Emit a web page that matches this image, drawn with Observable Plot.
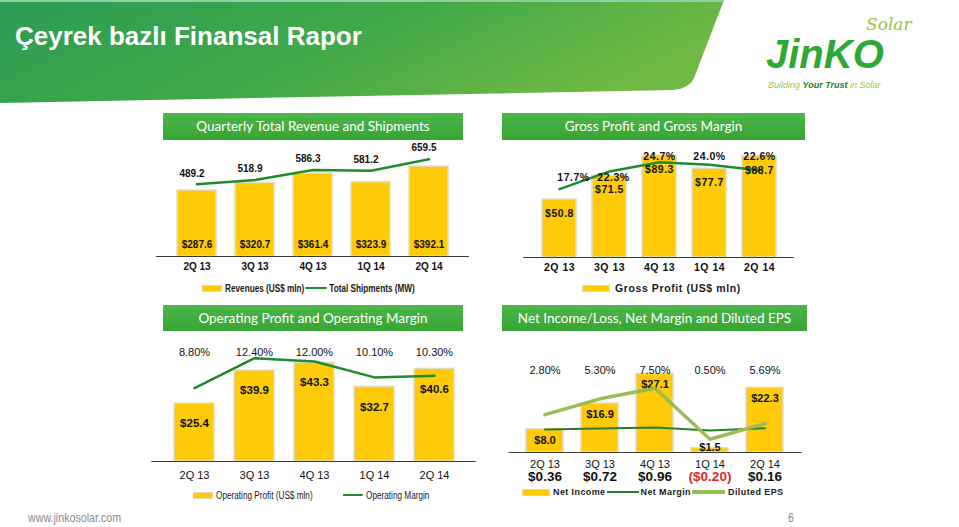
<!DOCTYPE html>
<html><head><meta charset="utf-8">
<script src="https://cdn.jsdelivr.net/npm/d3@7"></script>
<script src="https://cdn.jsdelivr.net/npm/@observablehq/plot@0.6"></script>
<style>
html,body{margin:0;padding:0;background:#fff;}
#page{position:relative;width:959px;height:527px;overflow:hidden;background:#fff;font-family:"Liberation Sans",Arial,sans-serif;}
.abs{position:absolute;}
.ph{position:absolute;height:27px;line-height:27px;color:#fff;text-align:center;font-family:Lato,"Open Sans",sans-serif;font-size:13.5px;background:linear-gradient(#4fb64a,#36a433);white-space:nowrap;}
.chart{position:absolute;}
.chart svg{position:absolute;left:0;top:0;}
.legend{position:absolute;display:flex;align-items:center;white-space:nowrap;color:#1a1a1a;height:14px;font-family:"Liberation Sans",Arial,sans-serif;}
.squeeze{transform:scaleX(0.82);transform-origin:0 50%;}
.sw{display:inline-block;background:#FFCA08;border:1px solid #e0d9bc;box-sizing:border-box;}
.ln{display:inline-block;}
#c2 text{letter-spacing:0.5px;}
.foot{position:absolute;color:#8a8a8a;font-size:13px;line-height:16px;font-family:"Liberation Sans",Arial,sans-serif;}
</style></head>
<body><div id="page">
<svg class="abs" style="left:0;top:0" width="959" height="110">
 <defs>
  <linearGradient id="hg" x1="0" x2="1" y1="0" y2="0.3">
   <stop offset="0" stop-color="#2c9c55"/><stop offset="0.55" stop-color="#41a948"/><stop offset="1" stop-color="#6fb944"/>
  </linearGradient>
  <linearGradient id="ul" x1="0" x2="1"><stop offset="0" stop-color="#3a9a3a"/><stop offset="1" stop-color="#cccccc" stop-opacity="0.3"/></linearGradient>
 </defs>
 <path d="M0,0 H724 L694,78 Q689,89 672,90 L0,103 Z" fill="url(#hg)"/>
 <rect x="0" y="0" width="724" height="2" fill="#8fd0a0"/>
 <text x="15" y="45" fill="#fff" font-family="Liberation Sans, Arial, sans-serif" font-weight="bold" font-size="26">Çeyrek bazlı Finansal Rapor</text>
 <text x="866" y="30" fill="#9cc43c" font-family="DejaVu Serif, serif" font-style="italic" font-size="17">Solar</text>
 <text x="766" y="68" fill="#2fa836" font-family="Liberation Sans, Arial, sans-serif" font-style="italic" font-weight="bold" font-size="40">JinKO</text>
 <line x1="768" x2="926" y1="73.5" y2="73.5" stroke="url(#ul)" stroke-width="1.5"/>
 <text x="768" y="88" font-family="Liberation Sans, Arial, sans-serif" font-size="9" font-style="italic" fill="#9cc54a">Building <tspan font-weight="bold" fill="#1f7d2c">Your Trust</tspan> in Solar</text>
</svg>

<div class="ph" style="left:163px;top:113px;width:300px">Quarterly Total Revenue and Shipments</div>
<div class="ph" style="left:502px;top:113px;width:303px">Gross Profit and Gross Margin</div>
<div class="ph" style="left:163px;top:305px;width:300px;height:26px;line-height:26px">Operating Profit and Operating Margin</div>
<div class="ph" style="left:502px;top:305px;width:305px;height:26px;line-height:26px">Net Income/Loss, Net Margin and Diluted EPS</div>

<div id="c1" class="chart" style="left:150px;top:140px;width:330px;height:140px"></div>
<div id="c2" class="chart" style="left:510px;top:142px;width:295px;height:140px"></div>
<div id="c3" class="chart" style="left:148px;top:335px;width:330px;height:153px"></div>
<div id="c4" class="chart" style="left:505px;top:340px;width:300px;height:146px"></div>

<div class="legend squeeze" style="left:202px;top:281px;font-size:10px;font-weight:bold">
 <span class="sw" style="width:24.4px;height:7px"></span><span style="margin-left:3.7px">Revenues (US$ mln)</span>
 <span class="ln" style="width:25.6px;height:2px;background:#1E8B30;margin-left:1.2px"></span><span style="margin-left:3.7px">Total Shipments (MW)</span>
</div>
<div class="legend" style="left:582px;top:281px;font-size:10.5px;font-weight:bold;letter-spacing:0.6px">
 <span class="sw" style="width:28px;height:7px"></span><span style="margin-left:5px">Gross Profit (US$ mln)</span>
</div>
<div class="legend squeeze" style="left:193px;top:488px;font-size:10px">
 <span class="sw" style="width:24.4px;height:7px"></span><span style="margin-left:3.7px">Operating Profit (US$ mln)</span>
 <span class="ln" style="width:24.4px;height:2px;background:#1E8B30;margin-left:37px"></span><span style="margin-left:3.7px">Operating Margin</span>
</div>
<div class="legend" style="left:522px;top:485px;font-size:9px;font-weight:bold;letter-spacing:0.4px">
 <span class="sw" style="width:28px;height:7px"></span><span style="margin-left:3px">Net Income</span>
 <span class="ln" style="width:32px;height:2px;background:#2a7d2a;margin-left:1px"></span><span style="margin-left:2px">Net Margin</span>
 <span class="ln" style="width:33px;height:3.5px;background:#9BBB59;margin-left:1px"></span><span style="margin-left:3px">Diluted EPS</span>
</div>

<div class="foot squeeze" style="left:28px;top:510px">www.jinkosolar.com</div>
<div class="foot squeeze" style="left:788px;top:510px">6</div>
</div>

<script>
// ---- data ----
const quarters = ["2Q 13", "3Q 13", "4Q 13", "1Q 14", "2Q 14"];
const revenue = [287.6, 320.7, 361.4, 323.9, 392.1];
const shipments = [489.2, 518.9, 586.3, 581.2, 659.5];
const grossProfit = [50.8, 71.5, 89.3, 77.7, 88.7];
const grossMargin = [17.7, 22.3, 24.7, 24.0, 22.6];
const opProfit = [25.4, 39.9, 43.3, 32.7, 40.6];
const opMargin = [8.80, 12.40, 12.00, 10.10, 10.30];
const netIncome = [8.0, 16.9, 27.1, 1.5, 22.3];
const netMargin = [2.80, 5.30, 7.50, 0.50, 5.69];
const eps = [0.36, 0.72, 0.96, -0.20, 0.16];

const idx = d3.range(quarters.length);
const ARIAL = '"Liberation Sans", Arial, Helvetica, sans-serif';
const BAR = "#FFCA08", BAR_EDGE = "#E2DCC2", DARK_GREEN = "#1E8B30", NM_GREEN = "#2a7d2a", LIGHT_GREEN = "#9BBB59";
const q = i => quarters[i];

function plot(cfg, yd, marks) {
  return Plot.plot({
    width: cfg.w, height: cfg.h,
    marginLeft: cfg.ml, marginRight: cfg.mr, marginTop: cfg.mt, marginBottom: cfg.mb,
    x: {type: "band", domain: quarters, padding: cfg.pad, axis: null},
    y: {domain: yd, axis: null},
    style: {background: "transparent", overflow: "visible", fontFamily: ARIAL, color: "#111"},
    marks
  });
}
function mount(id, ...svgs) { const el = document.getElementById(id); svgs.forEach(s => el.appendChild(s)); }
const axisRule = () => Plot.ruleY([0], {stroke: "#3a3a3a", strokeWidth: 1});

// ---- Panel 1: revenue bars + shipments line ----
const c1 = {w: 330, h: 140, ml: 6, mr: 11, mt: 10, mb: 24, pad: 0.336};
mount("c1",
  plot(c1, [0, 462], [
    Plot.barY(idx, {x: q, y: i => revenue[i], fill: BAR, stroke: BAR_EDGE, strokeWidth: 1.5}),
    Plot.text(idx, {x: q, frameAnchor: "bottom", dy: -9, text: i => "$" + revenue[i].toFixed(1), fontWeight: "bold", fontSize: 10, fill: "#111"}),
    Plot.text(idx, {x: q, frameAnchor: "bottom", dy: 13, text: q, fontWeight: "bold", fontSize: 10, fill: "#111"}),
    axisRule()
  ]),
  plot(c1, [0, 718.6], [
    Plot.line(idx, {x: q, y: i => shipments[i], stroke: DARK_GREEN, strokeWidth: 2.5}),
    Plot.text(idx, {x: q, y: i => shipments[i], dy: -11, dx: -5, text: i => shipments[i].toFixed(1), fontWeight: "bold", fontSize: 10, fill: "#111"})
  ])
);

// ---- Panel 2: gross profit bars + gross margin line ----
const c2 = {w: 295, h: 140, ml: 13.25, mr: 11.2, mt: 8, mb: 25, pad: 0.33};
const gmText = i => grossMargin[i].toFixed(1) + "%";
mount("c2",
  plot(c2, [0, 93.7], [
    Plot.barY(idx, {x: q, y: i => grossProfit[i], fill: BAR, stroke: BAR_EDGE, strokeWidth: 1.5}),
    Plot.text(idx, {x: q, frameAnchor: "bottom", dy: 13, text: q, fontWeight: "bold", fontSize: 10.5, fill: "#111"}),
    axisRule()
  ]),
  plot(c2, [0, 27.72], [
    Plot.line(idx, {x: q, y: i => grossMargin[i], stroke: DARK_GREEN, strokeWidth: 2.5})
  ]),
  plot(c2, [0, 93.7], [
    Plot.text(idx, {x: q, y: i => grossProfit[i], dy: 14, text: i => "$" + grossProfit[i].toFixed(1), fontWeight: "bold", fontSize: 10.5, fill: "#111"}),
    Plot.text([0], {x: q, frameAnchor: "top", dy: 23, dx: 14, text: gmText, fontWeight: "bold", fontSize: 10.5, fill: "#111"}),
    Plot.text([1], {x: q, frameAnchor: "top", dy: 23, dx: 4, text: gmText, fontWeight: "bold", fontSize: 10.5, fill: "#111"}),
    Plot.text([2, 3, 4], {x: q, frameAnchor: "top", dy: 2, text: gmText, fontWeight: "bold", fontSize: 10.5, fill: "#111"})
  ])
);

// ---- Panel 3: operating profit bars + operating margin line ----
const c3 = {w: 330, h: 153, ml: 3.3, mr: 2.3, mt: 5, mb: 27, pad: 0.34};
mount("c3",
  plot(c3, [0, 53.07], [
    Plot.barY(idx, {x: q, y: i => opProfit[i], fill: BAR, stroke: BAR_EDGE, strokeWidth: 1.5}),
    Plot.text(idx, {x: q, y: i => opProfit[i], dy: 20, text: i => "$" + opProfit[i].toFixed(1), fontWeight: "bold", fontSize: 11.5, fill: "#111"}),
    Plot.text(idx, {x: q, frameAnchor: "top", dy: 8, text: i => opMargin[i].toFixed(2) + "%", fontSize: 11, fill: "#111"}),
    Plot.text(idx, {x: q, frameAnchor: "bottom", dy: 17, text: q, fontSize: 11, fill: "#111"}),
    axisRule()
  ]),
  plot(c3, [0, 14.53], [
    Plot.line(idx, {x: q, y: i => opMargin[i], stroke: DARK_GREEN, strokeWidth: 2.5})
  ])
);

// ---- Panel 4: net income bars + net margin line + diluted EPS line ----
const c4 = {w: 300, h: 146, ml: 3.5, mr: 3.5, mt: 5, mb: 34, pad: 0.327};
const epsText = i => eps[i] < 0 ? "($" + Math.abs(eps[i]).toFixed(2) + ")" : "$" + eps[i].toFixed(2);
const niText = i => "$" + netIncome[i].toFixed(1);
mount("c4",
  plot(c4, [0, 36.9], [
    Plot.barY(idx, {x: q, y: i => netIncome[i], fill: BAR, stroke: BAR_EDGE, strokeWidth: 1.5}),
    Plot.text(idx.filter(i => netIncome[i] >= 5), {x: q, y: i => netIncome[i], dy: 11, text: niText, fontWeight: "bold", fontSize: 11, fill: "#111"}),
    Plot.text(idx.filter(i => netIncome[i] < 5), {x: q, frameAnchor: "bottom", dy: -2, text: niText, fontWeight: "bold", fontSize: 11, fill: "#111"}),
    Plot.text(idx, {x: q, frameAnchor: "top", dy: 21, text: i => netMargin[i].toFixed(2) + "%", fontSize: 11, fill: "#111"}),
    Plot.text(idx, {x: q, frameAnchor: "bottom", dy: 15, text: q, fontSize: 11, fill: "#111"}),
    Plot.text(idx.filter(i => eps[i] >= 0), {x: q, frameAnchor: "bottom", dy: 28, text: epsText, fontWeight: "bold", fontSize: 13.5, fill: "#111"}),
    Plot.text(idx.filter(i => eps[i] < 0), {x: q, frameAnchor: "bottom", dy: 28, text: epsText, fontWeight: "bold", fontSize: 13.5, fill: "#E02626"}),
    axisRule()
  ]),
  plot(c4, [-50.7, 198.1], [
    Plot.line(idx, {x: q, y: i => netMargin[i], stroke: NM_GREEN, strokeWidth: 2})
  ]),
  plot(c4, [-0.5, 1.932], [
    Plot.line(idx, {x: q, y: i => eps[i], stroke: LIGHT_GREEN, strokeWidth: 3.5})
  ])
);
</script>
</body></html>
